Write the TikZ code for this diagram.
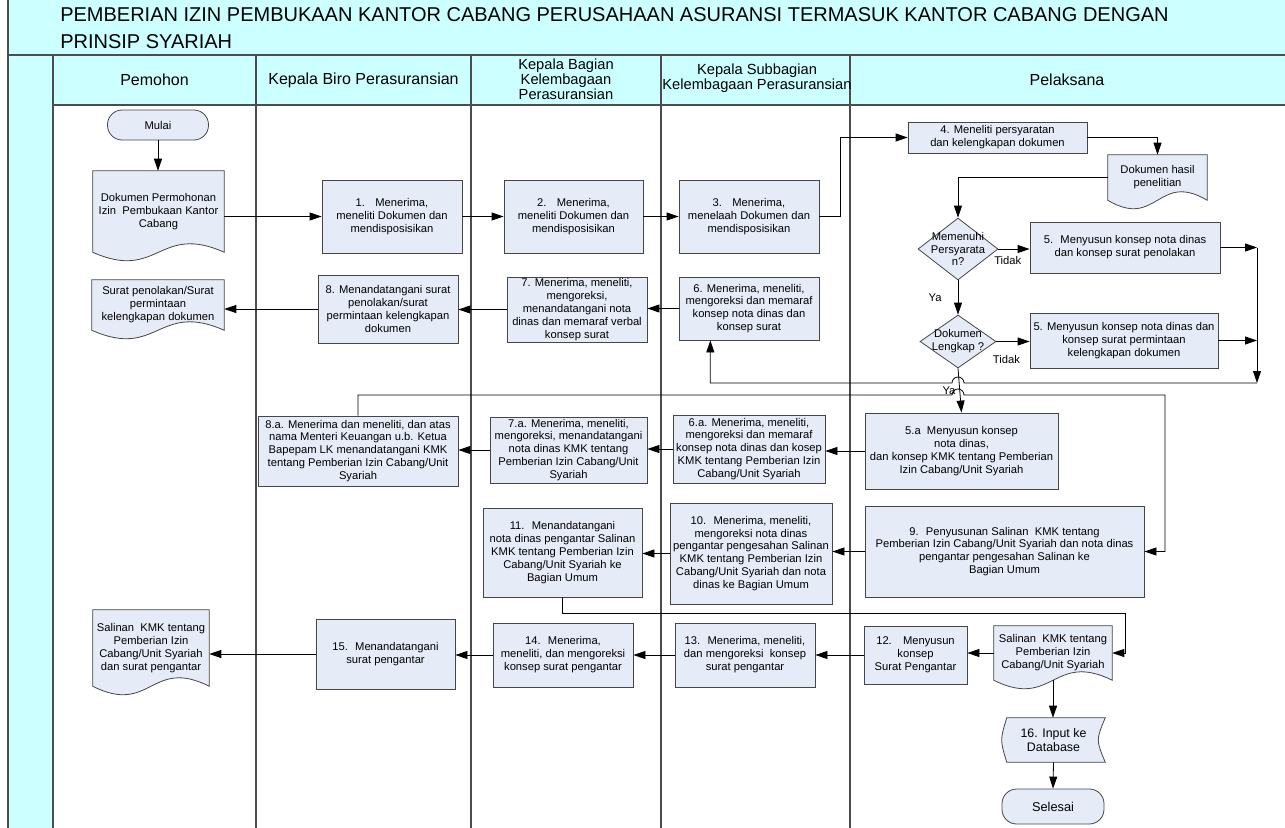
\documentclass[tikz,border=0pt]{standalone}
\usepackage{fontspec}
\setmainfont{Liberation Sans}
\usepackage{tikz}
\usetikzlibrary{arrows.meta,shapes.geometric,backgrounds,calc}
\definecolor{lanecyan}{RGB}{204,255,255}
\definecolor{boxfill}{RGB}{230,236,247}
\definecolor{lineedge}{RGB}{70,70,70}

% document shape with wavy bottom, drawn behind a node
\newcommand{\dokwave}[1]{%
  \filldraw[fill=boxfill,draw=lineedge,line width=0.6pt]
    (#1.north west) -- (#1.north east) -- (#1.south east)
    .. controls ([yshift=22pt]#1.south) and ([yshift=-22pt]#1.south) .. (#1.south west) -- cycle;}
% stored data shape
\newcommand{\simpandata}[1]{%
  \filldraw[fill=boxfill,draw=lineedge,line width=0.6pt]
    ([xshift=3.75pt]#1.north west) -- (#1.north east)
    .. controls ([xshift=-7pt]#1.east) .. (#1.south east)
    -- ([xshift=3.75pt]#1.south west)
    .. controls ([xshift=-1.3pt]#1.west) .. ([xshift=3.75pt]#1.north west) -- cycle;}

\begin{document}
\begin{tikzpicture}[x=0.75pt,y=-0.75pt,
  every node/.style={font=\fontsize{8.4}{9.7}\selectfont},
  proses/.style={draw=lineedge,fill=boxfill,line width=0.6pt,align=center,inner sep=1pt},
  wh/.style 2 args={minimum width=#1*0.75pt,minimum height=#2*0.75pt},
  dok/.style={align=center,inner sep=1pt},
  mulaiakhir/.style={draw=lineedge,fill=boxfill,line width=0.6pt,rounded corners=11pt},
  putusan/.style={diamond,draw=lineedge,fill=boxfill,line width=0.6pt,inner sep=0pt},
  judul/.style={font=\fontsize{11}{10.2}\selectfont,align=center},
  judulbesar/.style={font=\fontsize{12}{12}\selectfont,align=center},
  lbl/.style={inner sep=2pt},
  alur/.style={line width=0.6pt,-{Triangle[length=9pt,width=6pt]}},
  garis/.style={draw=black!70,line width=0.9pt}]
  \useasboundingbox (0,0) rectangle (1285,828);
  % lanes
  \fill[lanecyan] (8,0) rectangle (1285,55);
  \fill[lanecyan] (8,55) rectangle (53,828);
  \fill[lanecyan] (53,55) rectangle (1285,105);
  \draw[garis] (8,0) -- (8,828);
  \draw[garis] (8,55) -- (1285,55);
  \draw[garis] (53,105) -- (1285,105);
  \foreach \x in {53,256,471,661,850}
    \draw[garis] (\x,55) -- (\x,828);
  \node[anchor=north west,inner sep=0pt,align=left,font=\fontsize{15}{20.6}\selectfont] (judulutama) at (60,7)
    {PEMBERIAN IZIN PEMBUKAAN KANTOR CABANG PERUSAHAAN ASURANSI TERMASUK KANTOR CABANG DENGAN\\PRINSIP SYARIAH};
  \node[judulbesar] (hpemohon) at (154.5,80) {Pemohon};
  \node[judulbesar] (hbiro) at (363.5,80) {Kepala Biro Perasuransian};
  \node[judul] (hbagian) at (566,79) {Kepala Bagian\\Kelembagaan\\Perasuransian};
  \node[judul] (hsub) at (757,78) {Kepala Subbagian\\Kelembagaan Perasuransian};
  \node[judulbesar] (hpelaksana) at (1067,80) {Pelaksana};

  % steps
  \node[mulaiakhir,wh={101}{30}] (mulai) at (158,125) {Mulai};
  \node[dok,wh={131}{81}] (dokmohon) at (158.5,211.5) {Dokumen Permohonan\\Izin~ Pembukaan Kantor\\Cabang};
  \node[proses,wh={140}{73}] (p1) at (392,216.5) {1.~~ Menerima,\\meneliti Dokumen dan\\mendisposisikan};
  \node[proses,wh={139}{73}] (p2) at (573.5,216.5) {2.~~ Menerima,\\meneliti Dokumen dan\\mendisposisikan};
  \node[proses,wh={140}{73}] (p3) at (749,216.5) {3.~~ Menerima,\\menelaah Dokumen dan\\mendisposisikan};
  \node[proses,wh={179}{31}] (p4) at (997.5,137.5) {4. Meneliti persyaratan\\dan kelengkapan dokumen};
  \node[dok,wh={99}{45}] (dokhasil) at (1157.5,177.5) {Dokumen hasil\\penelitian};
  \node[putusan,wh={80}{62}] (q1) at (958,249) {};
  \node[align=center] (q1teks) at (q1) {Memenuhi\\Persyarata\\n?};
  \node[proses,wh={190}{51}] (p5) at (1125,247.5) {5.~ Menyusun konsep nota dinas\\dan konsep surat penolakan};
  \node[putusan,wh={76}{53}] (q2) at (958,341.5) {};
  \node[align=center] (q2teks) at (q2) {Dokumen\\Lengkap ?};
  \node[proses,wh={188}{55}] (p5b) at (1124,340.5) {5. Menyusun konsep nota dinas dan\\konsep surat permintaan\\kelengkapan dokumen};
  \node[proses,wh={140}{63}] (p6) at (749,308.5) {6. Menerima, meneliti,\\mengoreksi dan memaraf\\konsep nota dinas dan\\konsep surat};
  \node[proses,wh={140}{65}] (p7) at (577,309.5) {7. Menerima, meneliti,\\mengoreksi,\\menandatangani nota\\dinas dan memaraf verbal\\konsep surat};
  \node[proses,wh={140}{68}] (p8) at (388,309) {8. Menandatangani surat\\penolakan/surat\\permintaan kelengkapan\\dokumen};
  \node[dok,wh={132}{50}] (doktolak) at (158,305) {Surat penolakan/Surat\\permintaan\\kelengkapan dokumen};
  \node[proses,wh={193}{76}] (p5a) at (961.5,451) {5.a~ Menyusun konsep\\nota dinas,\\dan konsep KMK tentang Pemberian\\Izin Cabang/Unit Syariah};
  \node[proses,wh={152}{68}] (p6a) at (749,449) {6.a. Menerima, meneliti,\\mengoreksi dan memaraf\\konsep nota dinas dan kosep\\KMK tentang Pemberian Izin\\Cabang/Unit Syariah};
  \node[proses,wh={157}{66}] (p7a) at (568.5,450) {7.a. Menerima, meneliti,\\mengoreksi, menandatangani\\nota dinas KMK tentang\\Pemberian Izin Cabang/Unit\\Syariah};
  \node[proses,wh={200}{70}] (p8a) at (358,451) {8.a. Menerima dan meneliti, dan atas\\nama Menteri Keuangan u.b. Ketua\\Bapepam LK menandatangani KMK\\tentang Pemberian Izin Cabang/Unit\\Syariah};
  \node[proses,wh={279}{91}] (p9) at (1004.5,551.5) {9.~ Penyusunan Salinan~ KMK tentang\\Pemberian Izin Cabang/Unit Syariah dan nota dinas\\pengantar pengesahan Salinan ke\\Bagian Umum};
  \node[proses,wh={162}{101}] (p10) at (751,553.5) {10.~ Menerima, meneliti,\\mengoreksi nota dinas\\pengantar pengesahan Salinan\\KMK tentang Pemberian Izin\\Cabang/Unit Syariah dan nota\\dinas ke Bagian Umum};
  \node[proses,wh={159}{89}] (p11) at (562.5,552.5) {11.~ Menandatangani\\nota dinas pengantar Salinan\\KMK tentang Pemberian Izin\\Cabang/Unit Syariah ke\\Bagian Umum};
  \node[dok,wh={118}{54}] (doksalinan) at (1053,653) {Salinan~ KMK tentang\\Pemberian Izin\\Cabang/Unit Syariah};
  \node[proses,wh={103}{58}] (p12) at (915.5,655) {12.\quad Menyusun\\konsep\\Surat Pengantar};
  \node[proses,wh={140}{64}] (p13) at (745,655) {13.~ Menerima, meneliti,\\dan mengoreksi~ konsep\\surat pengantar};
  \node[proses,wh={140}{64}] (p14) at (563,655) {14.~ Menerima,\\meneliti, dan mengoreksi\\konsep surat pengantar};
  \node[proses,wh={139}{70}] (p15) at (385.5,654) {15.~ Menandatangani\\surat pengantar};
  \node[dok,wh={116}{76}] (dokakhir) at (151,648) {Salinan~ KMK tentang\\Pemberian Izin\\Cabang/Unit Syariah\\dan surat pengantar};
  \node[dok,wh={103}{44},font=\fontsize{9.3}{10.5}\selectfont] (p16) at (1053.5,740) {16. Input ke\\Database};
  \node[mulaiakhir,wh={102}{35},font=\fontsize{9.6}{11}\selectfont] (selesai) at (1053,806.5) {Selesai};

  \begin{scope}[on background layer]
    \dokwave{dokmohon}
    \dokwave{dokhasil}
    \dokwave{doktolak}
    \dokwave{doksalinan}
    \dokwave{dokakhir}
    \simpandata{p16}
  \end{scope}

  \coordinate (kumpul) at (1257,383);
  \coordinate (belok1) at (1165,395);
  \coordinate (belok2) at (1125,613);

  % connectors
  \draw[alur] (mulai.south) -- (mulai.south |- dokmohon.north);
  \draw[alur] (p1.west -| dokmohon.east) -- (p1.west);
  \draw[alur] (p1.east) -- (p1.east -| p2.west);
  \draw[alur] (p2.east) -- (p2.east -| p3.west);
  \draw[alur] (p3.east) -- ++(21,0) |- (p4.west);
  \draw[alur] (p4.east) -| (dokhasil.north);
  \draw[alur] (dokhasil.west) -| (q1.north);
  \draw[alur] (q1.east) -- (q1.east -| p5.west) node[lbl,pos=0.3,below=3pt] (tidak1) {Tidak};
  \draw[alur] (q1.south) -- (q2.north) node[lbl,pos=0.5,left=10pt] (ya1) {Ya};
  \draw[alur] (q2.east) -- (q2.east -| p5b.west) node[lbl,pos=0.3,below=8pt] (tidak2) {Tidak};
  \draw[alur] (q2.south) -- (p5a.north) node[lbl,pos=0.51,left=1pt] (ya2) {Ya};
  \draw[alur] (p5.east) -- (p5.east -| kumpul);
  \draw[alur] (p5b.east) -- (p5b.east -| kumpul);
  \draw[alur] (p5.east -| kumpul) -- (kumpul);
  \draw[alur] (kumpul) -- ($(q2.south |- kumpul)+(6,0)$)
    arc[start angle=0,end angle=-180,radius=6] -| ([xshift=-29pt]p6.south);
  \draw[alur] (p6.west) -- (p6.west -| p7.east);
  \draw[alur] (p7.west) -- (p7.west -| p8.east);
  \draw[alur] (p8.west) -- (p8.west -| doktolak.east);
  \draw[alur] (p5a.west) -- (p5a.west -| p6a.east);
  \draw[alur] (p6a.west) -- (p6a.west -| p7a.east);
  \draw[alur] (p7a.west) -- (p7a.west -| p8a.east);
  \draw[alur] (p8a.north) |- ($(q2.south |- belok1)+(-6,0)$)
    arc[start angle=180,end angle=360,radius=6] -- (belok1) |- (p9.east);
  \draw[alur] (p9.west) -- (p9.west -| p10.east);
  \draw[alur] (p10.west) -- (p10.west -| p11.east);
  \draw[alur] (p11.south) |- (belok2) |- (doksalinan.east);
  \draw[alur] (doksalinan.west) -- (doksalinan.west -| p12.east);
  \draw[alur] (p12.west) -- (p12.west -| p13.east);
  \draw[alur] (p13.west) -- (p13.west -| p14.east);
  \draw[alur] (p14.west) -- (p14.west -| p15.east);
  \draw[alur] (p15.west) -- (p15.west -| dokakhir.east);
  \draw[alur] (doksalinan.south) -- (doksalinan.south |- p16.north);
  \draw[alur] (p16.south) -- (selesai.north);
\end{tikzpicture}
\end{document}
